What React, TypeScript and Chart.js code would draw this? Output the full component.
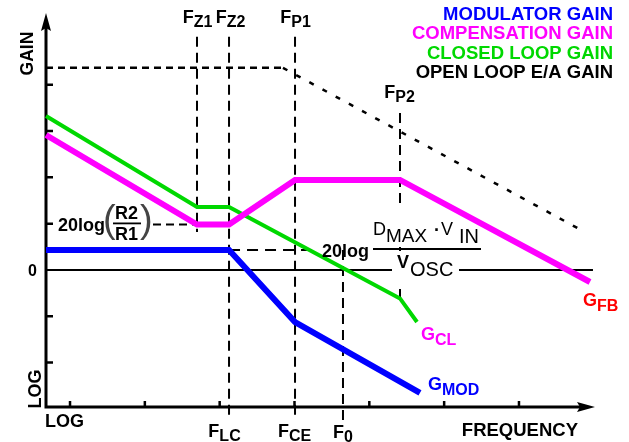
import React, { useEffect, useRef } from 'react';
import { Chart, registerables } from 'chart.js';

Chart.register(...registerables);

const FONT = "'Liberation Sans', Arial, Helvetica, sans-serif";
const BLUE = '#0000ff';
const MAGENTA = '#ff00ff';
const GREEN = '#00d800';
const RED = '#ff0000';
const BLACK = '#000000';

// x = log10(frequency) in decades, y = gain in dB
const xRange = [0.679, 8.016];
const yRange = [-59.2, 111];
const xTicks = [1, 2, 3, 4, 5, 6, 7];
const yTicks = [-40, -20, 20, 40, 60, 80];

// Modulator gain (G_MOD)
const modFreq = [0.679, 3.125, 4.007, 5.677];
const modGain = [8.6, 8.6, -22.5, -53.1];
// Compensation gain (G_FB)
const compFreq = [0.679, 2.697, 3.125, 4.007, 5.41, 7.949];
const compGain = [58.3, 19.6, 19.6, 38.9, 38.9, -5.2];
// Closed loop gain (G_CL)
const clFreq = [0.679, 2.697, 3.125, 5.41, 5.637];
const clGain = [66.5, 27.2, 27.2, -12.3, -22.5];
// Open loop E/A gain
const olFreq = [0.679, 3.846, 7.856];
const olGain = [87.3, 87.3, 16.8];

// Corner frequencies
const fZ1 = 2.697;
const fZ2 = 3.125;
const fP1 = 4.007;
const f0 = 4.648;
const fP2 = 5.41;
const fLC = fZ2;
const fCE = fP1;
const zeroEnd = 7.989;

const gainR2R1 = 19.6; // 20log(R2/R1)
const gainModDC = 8.6; // 20log(DMAX*VIN/VOSC)
const refTop = 100.7;
const refBottom = -64.8;
const fZ1Bottom = 16.4;
const fP2Top = 67.8;
const r2r1Start = 2.109;
const modDashEnd = 4.314;

type P = { x: number; y: number };
const pts = (xs: number[], ys: number[]): P[] => xs.map((v, i) => ({ x: v, y: ys[i] }));

const lineDs = (label: string, data: P[], color: string, width: number, extra: any = {}) => ({
  label,
  data,
  borderColor: color,
  backgroundColor: color,
  borderWidth: width,
  showLine: true,
  pointRadius: 0,
  pointHoverRadius: 0,
  fill: false,
  clip: false,
  tension: 0,
  borderCapStyle: 'butt',
  borderJoinStyle: 'miter',
  ...extra,
});

const DASH = [10, 6];

function txt(ctx: CanvasRenderingContext2D, s: string, x: number, y: number, font: string, color: string, align: CanvasTextAlign = 'left') {
  ctx.font = font;
  ctx.fillStyle = color;
  ctx.textAlign = align;
  ctx.textBaseline = 'alphabetic';
  ctx.fillText(s, x, y);
}

function subLabel(
  ctx: CanvasRenderingContext2D,
  main: string,
  sub: string,
  x: number,
  by: number,
  color: string,
  mainSize: number,
  subSize: number,
  drop: number,
  center: boolean
) {
  const mf = `bold ${mainSize}px ${FONT}`;
  const sf = `bold ${subSize}px ${FONT}`;
  ctx.font = mf;
  const w1 = ctx.measureText(main).width;
  ctx.font = sf;
  const w2 = ctx.measureText(sub).width;
  const left = center ? x - (w1 + w2) / 2 : x;
  txt(ctx, main, left, by, mf, color);
  txt(ctx, sub, left + w1, by + drop, sf, color);
}

const diagramPlugin = {
  id: 'diagram',
  beforeDatasetsDraw(chart: any) {
    const { ctx, scales } = chart;
    const xs = scales.x;
    const ys = scales.y;
    const x0 = xs.getPixelForValue(xRange[0]);
    const y0 = ys.getPixelForValue(yRange[0]);
    const xEnd = xs.getPixelForValue(xRange[1]);
    const yEnd = ys.getPixelForValue(yRange[1]);
    ctx.save();
    ctx.strokeStyle = BLACK;
    ctx.fillStyle = BLACK;
    ctx.lineWidth = 3;
    ctx.beginPath();
    ctx.moveTo(x0, y0 + 1.5);
    ctx.lineTo(x0, yEnd + 12);
    ctx.moveTo(x0 - 1.5, y0);
    ctx.lineTo(xEnd - 12, y0);
    ctx.stroke();
    // arrow heads
    ctx.beginPath();
    ctx.moveTo(x0, yEnd);
    ctx.lineTo(x0 - 5, yEnd + 18);
    ctx.lineTo(x0, yEnd + 15);
    ctx.lineTo(x0 + 5, yEnd + 18);
    ctx.closePath();
    ctx.fill();
    ctx.beginPath();
    ctx.moveTo(xEnd, y0);
    ctx.lineTo(xEnd - 18, y0 - 5);
    ctx.lineTo(xEnd - 15, y0);
    ctx.lineTo(xEnd - 18, y0 + 5);
    ctx.closePath();
    ctx.fill();
    // ticks
    ctx.lineWidth = 2.5;
    ctx.beginPath();
    yTicks.forEach((v) => {
      const p = ys.getPixelForValue(v);
      ctx.moveTo(x0, p);
      ctx.lineTo(x0 + 7, p);
    });
    xTicks.forEach((v) => {
      const p = xs.getPixelForValue(v);
      ctx.moveTo(p, y0);
      ctx.lineTo(p, y0 - 6);
    });
    ctx.stroke();
    ctx.restore();
  },
  beforeDatasetDraw(chart: any, args: any) {
    if (args.index !== 2) return;
    const { ctx } = chart;
    ctx.save();
    ctx.fillStyle = '#ffffff';
    ctx.fillRect(370, 204, 112, 43);
    ctx.fillRect(392, 251, 67, 32);
    ctx.restore();
  },
  afterDatasetsDraw(chart: any) {
    const { ctx, scales } = chart;
    const xs = scales.x;
    const X = (v: number) => xs.getPixelForValue(v);
    ctx.save();

    // Legend
    const lf = `bold 18.5px ${FONT}`;
    txt(ctx, 'MODULATOR GAIN', 613, 19.5, lf, BLUE, 'right');
    txt(ctx, 'COMPENSATION GAIN', 613, 39, lf, MAGENTA, 'right');
    txt(ctx, 'CLOSED LOOP GAIN', 613, 58.5, lf, GREEN, 'right');
    txt(ctx, 'OPEN LOOP E/A GAIN', 613, 78, lf, BLACK, 'right');

    // Axis titles
    ctx.save();
    ctx.translate(33, 53.5);
    ctx.rotate(-Math.PI / 2);
    txt(ctx, 'GAIN', 0, 0, `bold 17.5px ${FONT}`, BLACK, 'center');
    ctx.restore();
    ctx.save();
    ctx.translate(41, 389);
    ctx.rotate(-Math.PI / 2);
    txt(ctx, 'LOG', 0, 0, `bold 18px ${FONT}`, BLACK, 'center');
    ctx.restore();
    txt(ctx, '0', 37, 276, `bold 16px ${FONT}`, BLACK, 'right');
    txt(ctx, 'LOG', 45, 427, `bold 18px ${FONT}`, BLACK, 'left');
    txt(ctx, 'FREQUENCY', 578, 436, `bold 18.5px ${FONT}`, BLACK, 'right');

    // Frequency labels
    subLabel(ctx, 'F', 'Z1', X(fZ1) + 0.5, 22.5, BLACK, 18, 16, 4, true);
    subLabel(ctx, 'F', 'Z2', X(fZ2) + 1.5, 22.5, BLACK, 18, 16, 4, true);
    subLabel(ctx, 'F', 'P1', X(fP1) + 0.5, 22.5, BLACK, 18, 16, 4, true);
    subLabel(ctx, 'F', 'P2', X(fP2) - 0.5, 97.5, BLACK, 18, 16, 4.5, true);
    subLabel(ctx, 'F', 'LC', X(fLC) - 4.5, 437, BLACK, 18, 16, 4, true);
    subLabel(ctx, 'F', 'CE', X(fCE) - 0.5, 437, BLACK, 18, 16, 4, true);
    subLabel(ctx, 'F', '0', X(f0), 437.5, BLACK, 18, 16, 4, true);

    // Curve labels
    subLabel(ctx, 'G', 'FB', 583, 306, RED, 18, 16, 5, false);
    subLabel(ctx, 'G', 'CL', 421, 340, MAGENTA, 18, 16, 4.5, false);
    subLabel(ctx, 'G', 'MOD', 428, 390, BLUE, 18, 16, 4.5, false);

    // 20log(R2/R1)
    txt(ctx, '20log', 58, 231, `bold 18px ${FONT}`, BLACK, 'left');
    ctx.save();
    ctx.font = `normal 38px ${FONT}`;
    ctx.fillStyle = '#444';
    ctx.textAlign = 'left';
    ctx.textBaseline = 'middle';
    ctx.fillText('(', 103, 222);
    ctx.fillText(')', 140, 222);
    ctx.restore();
    txt(ctx, 'R2', 126.5, 219, `bold 18px ${FONT}`, BLACK, 'center');
    txt(ctx, 'R1', 126.5, 240, `bold 18px ${FONT}`, BLACK, 'center');
    ctx.fillStyle = BLACK;
    ctx.fillRect(113, 222.5, 28, 1.8);

    // 20log(DMAX*VIN/VOSC)
    txt(ctx, '20log', 322, 257, `bold 18px ${FONT}`, BLACK, 'left');
    txt(ctx, 'D', 373, 235, `normal 18px ${FONT}`, BLACK, 'left');
    txt(ctx, 'MAX', 386, 242, `normal 19px ${FONT}`, BLACK, 'left');
    txt(ctx, '·', 437, 236, `bold 18px ${FONT}`, BLACK, 'center');
    txt(ctx, 'V', 441, 235, `normal 18px ${FONT}`, BLACK, 'left');
    txt(ctx, 'IN', 459, 243, `normal 20px ${FONT}`, BLACK, 'left');
    ctx.fillStyle = BLACK;
    ctx.fillRect(373, 248, 108, 2);
    txt(ctx, 'V', 397, 268, `bold 18px ${FONT}`, BLACK, 'left');
    txt(ctx, 'OSC', 410, 276, `normal 20px ${FONT}`, BLACK, 'left');

    ctx.restore();
  },
};

export default function App() {
  const ref = useRef<HTMLCanvasElement>(null);

  useEffect(() => {
    const canvas = ref.current;
    if (!canvas) return;
    const datasets: any[] = [
      lineDs('Modulator gain', pts(modFreq, modGain), BLUE, 6),
      lineDs('Compensation gain', pts(compFreq, compGain), MAGENTA, 6),
      lineDs('Closed loop gain', pts(clFreq, clGain), GREEN, 4),
      lineDs('Open loop E/A gain', pts(olFreq, olGain), BLACK, 2.5, {
        borderDash: [7, 5],
        segment: { borderDash: (c: any) => (c.p0DataIndex === 0 ? [7, 5] : [5, 10]) },
      }),
      lineDs('0 dB', pts([xRange[0], zeroEnd], [0, 0]), BLACK, 2),
      lineDs('FZ1', pts([fZ1, fZ1], [refTop, fZ1Bottom]), BLACK, 2, { borderDash: DASH }),
      lineDs('FZ2 / FLC', pts([fZ2, fZ2], [refTop, refBottom]), BLACK, 2, { borderDash: DASH }),
      lineDs('FP1 / FCE', pts([fP1, fP1], [refTop, refBottom]), BLACK, 2, { borderDash: DASH }),
      lineDs('F0', pts([f0, f0], [gainModDC, refBottom]), BLACK, 2, { borderDash: DASH }),
      lineDs('FP2', pts([fP2, fP2], [fP2Top, clGain[3]]), BLACK, 2, { borderDash: DASH }),
      lineDs('R2/R1', pts([r2r1Start, fZ1], [gainR2R1, gainR2R1]), BLACK, 2, { borderDash: [8, 5] }),
      lineDs('DC mod', pts([fLC, modDashEnd], [gainModDC, gainModDC]), BLACK, 2, { borderDash: [11, 7] }),
    ];
    const chart = new Chart(canvas, {
      type: 'scatter',
      data: { datasets },
      options: {
        animation: false,
        responsive: false,
        events: [],
        layout: { padding: { left: 46, right: 34, top: 13, bottom: 35 } },
        plugins: { legend: { display: false }, tooltip: { enabled: false } },
        scales: {
          x: { type: 'linear', display: false, min: xRange[0], max: xRange[1] },
          y: { type: 'linear', display: false, min: yRange[0], max: yRange[1] },
        },
      },
      plugins: [diagramPlugin],
    } as any);
    return () => chart.destroy();
  }, []);

  return (
    <div style={{ position: 'absolute', left: 0, top: 0, width: 629, height: 442, background: '#ffffff' }}>
      <canvas ref={ref} width={629} height={442} style={{ display: 'block', width: 629, height: 442 }} />
    </div>
  );
}
